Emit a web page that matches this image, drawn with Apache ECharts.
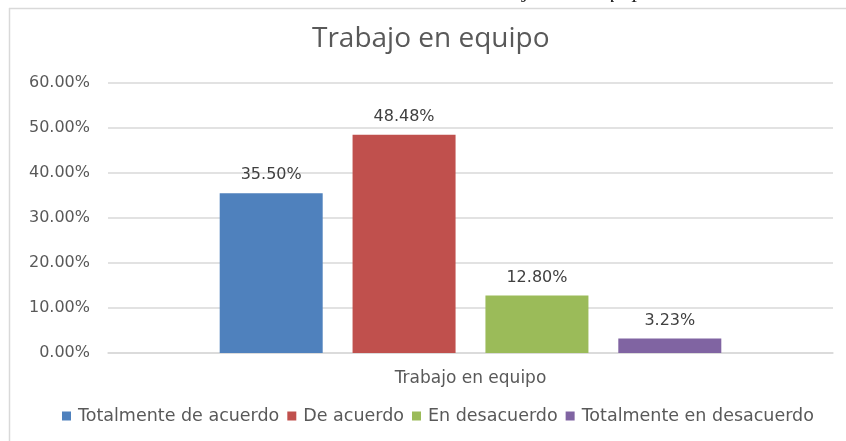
<!DOCTYPE html>
<html>
<head>
<meta charset="utf-8">
<title>Trabajo en equipo</title>
<script src="https://cdn.jsdelivr.net/npm/echarts@6/dist/echarts.min.js"></script>
<style>
    html, body { margin: 0; padding: 0; background: #fff; }
    #chart { width: 846px; height: 441px; }
</style>
</head>
<body>
<div id="chart"></div>
<script>
// datos del gráfico
const categories = ['Trabajo en equipo'];
const seriesNames = ['Totalmente de acuerdo', 'De acuerdo', 'En desacuerdo', 'Totalmente en desacuerdo'];
const seriesValues = [35.50, 48.48, 12.80, 3.23];
const seriesColors = ['#4F81BD', '#C0504D', '#9BBB59', '#8064A2'];
const yTicks = [0, 10, 20, 30, 40, 50, 60];

const chart = echarts.init(document.getElementById('chart'));

const series = seriesNames.map((name, i) => {
    return {
        name,
        type: 'bar',
        barWidth: 103,
        barGap: '29%',
        itemStyle: { color: seriesColors[i] },
        label: {
            show: true,
            position: 'top',
            distance: 10,
            color: '#404040',
            fontFamily: 'DejaVu Sans',
            fontSize: 16,
            formatter: p => p.value.toFixed(2) + '%'
        },
        data: [seriesValues[i]]
    };
});

const border = '#d9d9d9';

chart.setOption({
    animation: false,
    title: {
        text: 'Trabajo en equipo',
        left: 312,
        top: 25,
        padding: 0,
        textStyle: {
            fontFamily: 'Open Sans',
            fontSize: 28,
            fontWeight: 'normal',
            color: '#595959'
        }
    },
    legend: {
        left: 62,
        top: 407,
        padding: 0,
        itemWidth: 9,
        itemHeight: 9,
        itemGap: 8,
        icon: 'rect',
        textStyle: {
            fontFamily: 'DejaVu Sans',
            fontSize: 17.5,
            color: '#595959',
            padding: [0, 0, 0, 2]
        },
        data: seriesNames
    },
    grid: {
        left: 108,
        right: 13,
        top: 83,
        bottom: 88
    },
    xAxis: {
        type: 'category',
        data: categories,
        axisTick: { show: false },
        axisLine: { lineStyle: { color: border, width: 1.5 } },
        axisLabel: {
            margin: 17,
            color: '#595959',
            fontFamily: 'DejaVu Sans',
            fontSize: 17
        }
    },
    yAxis: {
        type: 'value',
        min: yTicks[0],
        max: yTicks[yTicks.length - 1],
        interval: yTicks[1] - yTicks[0],
        axisLine: { show: false },
        axisTick: { show: false },
        splitLine: { lineStyle: { color: border, width: 1.5 } },
        axisLabel: {
            margin: 18,
            color: '#595959',
            fontFamily: 'DejaVu Sans',
            fontSize: 16,
            formatter: v => v.toFixed(2) + '%'
        }
    },
    graphic: [
        // borde del área del gráfico (recortado en la imagen)
        { type: 'line', shape: { x1: 9, y1: 8.5, x2: 846, y2: 8.5 }, style: { stroke: border, lineWidth: 1.5 } },
        { type: 'line', shape: { x1: 9.5, y1: 8, x2: 9.5, y2: 441 }, style: { stroke: border, lineWidth: 1.5 } },
        // pie de figura del documento, cortado arriba
        { type: 'text', x: 471, y: -9, style: { text: 'Trabajo', font: 'italic 22px "Liberation Serif"', fill: '#222', verticalAlign: 'middle' } },
        { type: 'text', x: 556, y: -9, style: { text: 'en', font: 'italic 22px "Liberation Serif"', fill: '#222', verticalAlign: 'middle' } },
        { type: 'text', x: 595, y: -9, style: { text: 'equipo', font: 'italic 22px "Liberation Serif"', fill: '#222', verticalAlign: 'middle' } }
    ],
    series
});
</script>
</body>
</html>
